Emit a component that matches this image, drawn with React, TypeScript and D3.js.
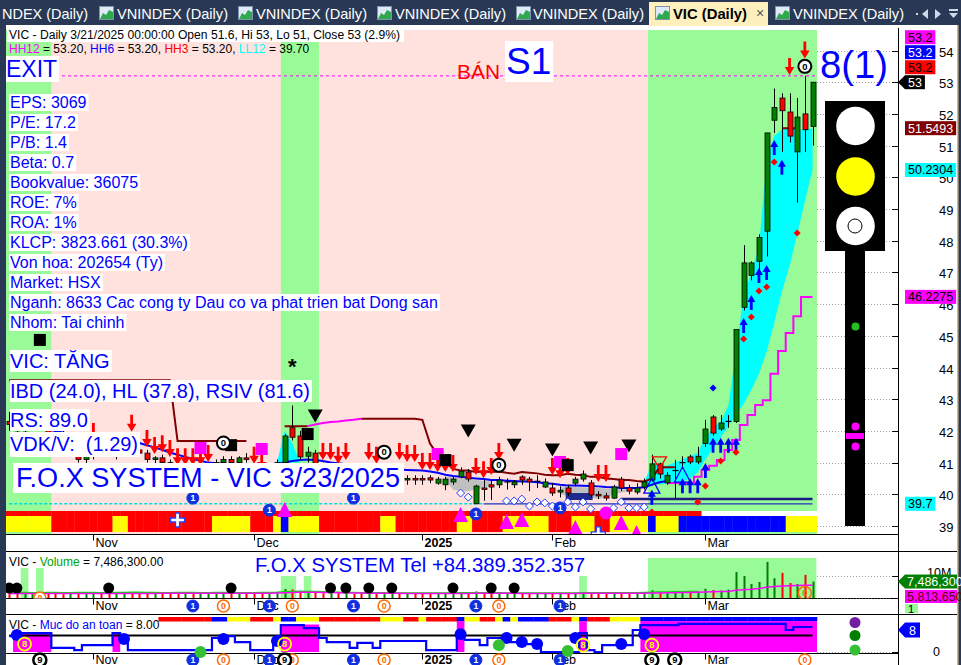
import React, { useEffect, useRef } from 'react';
import * as d3 from 'd3';

type Bar = [number, number, number, number];

const FONT = "'Liberation Sans', Arial, Helvetica, sans-serif";
const PINK = '#ffe2de';
const GREEN = '#98fb98';

// ---------- axis data ----------
const monthLabels = ['Nov', 'Dec', '2025', 'Feb', 'Mar'];
const monthStarts = [11, 32, 54, 71, 91];
const priceTicks = [39, 40, 41, 42, 43, 44, 45, 46, 47, 48, 49, 50, 51, 52, 53, 54];
const tabLabels = ['NDEX (Daily)', 'VNINDEX (Daily)', 'VNINDEX (Daily)', 'VNINDEX (Daily)', 'VNINDEX (Daily)', 'VIC (Daily)', 'VNINDEX (Daily)'];

// ---------- OHLC: open, high, low, close ----------
const octBars: Bar[] = [
  [42.3, 42.6, 42.0, 42.2], [42.2, 42.4, 41.9, 42.0], [42.0, 42.3, 41.8, 42.1], [42.1, 42.5, 42.0, 42.4],
  [42.4, 42.6, 42.1, 42.2], [42.2, 42.3, 41.8, 41.9], [41.9, 42.1, 41.6, 41.8], [41.8, 42.0, 41.5, 41.6],
  [41.6, 41.9, 41.4, 41.7], [41.4, 41.6, 41.0, 41.1], [41.1, 41.4, 40.9, 41.2],
];
const novBars: Bar[] = [
  [41.3, 41.6, 41.1, 41.5], [41.5, 41.6, 41.3, 41.4], [41.4, 41.6, 41.2, 41.3], [41.3, 41.5, 41.1, 41.4],
  [41.4, 41.7, 41.3, 41.6], [41.6, 41.85, 41.3, 41.4], [41.4, 41.6, 41.2, 41.3], [41.3, 41.4, 41.0, 41.1],
  [41.1, 41.2, 40.9, 41.15], [41.15, 41.25, 40.9, 41.0], [41.0, 41.1, 40.8, 40.9], [40.85, 40.88, 40.6, 40.7],
  [40.7, 40.85, 40.5, 40.8], [40.8, 40.85, 40.5, 40.6], [40.6, 40.85, 40.4, 40.7], [40.7, 40.95, 40.5, 40.8],
  [40.8, 41.1, 40.7, 41.0], [41.0, 41.2, 40.9, 41.1], [41.1, 41.2, 40.9, 41.0], [41.0, 41.2, 40.9, 41.15],
  [41.15, 41.3, 41.0, 41.1],
];
const decBars: Bar[] = [
  [40.9, 40.93, 40.7, 40.8], [40.7, 40.74, 40.5, 40.6], [40.6, 40.9, 40.5, 40.85], [40.85, 41.1, 40.8, 41.0],
  [41.0, 41.9, 40.9, 41.84], [42.1, 42.8, 41.7, 41.8], [41.84, 42.0, 41.1, 41.18], [41.2, 41.5, 41.0, 41.33],
  [41.3, 41.4, 40.7, 40.77], [40.8, 41.0, 40.5, 40.6], [40.6, 41.0, 40.4, 40.8], [40.8, 40.9, 40.5, 40.6],
  [40.6, 40.95, 40.4, 40.7], [40.7, 40.9, 40.5, 40.6], [40.6, 40.8, 40.3, 40.5], [40.5, 40.9, 40.3, 40.6],
  [40.6, 40.85, 40.4, 40.5], [40.5, 40.7, 40.3, 40.6], [40.35, 40.7, 40.3, 40.55], [40.5, 40.6, 40.2, 40.4],
  [40.45, 40.6, 40.3, 40.5], [40.5, 40.6, 40.3, 40.45],
];
const janBars: Bar[] = [
  [40.5, 40.6, 40.3, 40.45], [40.52, 40.6, 40.35, 40.45], [40.35, 40.55, 40.3, 40.48], [40.3, 40.55, 40.13, 40.48],
  [40.39, 40.55, 40.3, 40.48], [40.55, 40.85, 40.5, 40.73], [40.7, 40.8, 40.4, 40.48], [39.7, 40.3, 39.7, 40.26],
  [40.2, 40.45, 39.8, 40.15], [40.3, 40.45, 39.82, 40.23], [40.3, 40.55, 40.2, 40.45], [40.38, 40.5, 40.15, 40.4],
  [40.3, 40.45, 40.2, 40.39], [40.55, 40.6, 40.3, 40.45], [40.48, 40.55, 40.1, 40.39], [40.4, 40.6, 40.2, 40.42],
  [40.23, 40.5, 40.2, 40.39],
];
const febBars: Bar[] = [
  [40.2, 40.35, 39.95, 40.04], [40.07, 40.25, 39.9, 40.13], [40.2, 40.3, 39.95, 40.04], [40.35, 40.55, 40.25, 40.48],
  [40.48, 40.75, 40.4, 40.64], [40.36, 40.45, 39.9, 39.98], [40.0, 40.1, 39.85, 39.95], [39.95, 40.05, 39.8, 39.88],
  [39.88, 40.3, 39.85, 40.23], [40.48, 40.55, 40.1, 40.2], [40.2, 40.3, 40.0, 40.1], [40.07, 40.35, 40.0, 40.2],
  [40.23, 40.5, 40.15, 40.39], [40.45, 41.25, 40.4, 40.96], [40.96, 41.0, 40.5, 40.64], [40.36, 40.7, 40.3, 40.6],
  [40.74, 41.08, 39.88, 40.76], [40.98, 41.2, 40.8, 41.02], [41.18, 41.25, 40.95, 41.02], [41.02, 41.5, 40.95, 41.2],
];
const marBars: Bar[] = [
  [41.6, 42.35, 41.5, 42.06], [42.44, 42.5, 41.85, 41.93], [42.06, 42.5, 42.0, 42.25], [42.28, 42.5, 42.1, 42.32],
  [42.3, 45.2, 42.25, 45.2], [45.9, 47.86, 45.8, 47.3], [46.9, 47.35, 46.75, 47.3], [47.35, 48.2, 47.0, 48.1],
  [48.3, 51.4, 47.5, 51.4], [51.8, 52.8, 51.4, 52.2], [52.5, 52.65, 50.8, 52.1], [52.06, 52.65, 51.1, 51.3],
  [50.8, 52.5, 49.2, 51.9], [52.0, 53.2, 50.8, 51.5], [51.6, 53.0, 51.0, 53.0],
];

// ---------- volume (millions) ----------
const volumes = [
  2.4, 2.1, 1.8, 2.2, 1.9, 2.1, 2.4, 1.7, 2.0, 2.6, 1.8,
  2.2, 1.9, 2.3, 2.0, 1.8, 2.5, 2.1, 1.9, 2.4, 2.2, 2.0, 2.6, 2.3, 1.8, 2.1, 2.5, 2.0, 1.9, 2.2, 2.4, 2.1,
  2.3, 2.0, 2.4, 2.8, 4.1, 3.9, 3.2, 2.5, 2.6, 2.2, 2.0, 2.3, 2.1, 1.9, 2.4, 2.0, 1.8, 2.2, 2.1, 1.9, 2.3, 2.0,
  2.1, 1.8, 2.0, 2.2, 1.9, 2.3, 2.1, 3.0, 2.4, 2.0, 2.2, 1.9, 2.1, 2.0, 1.8, 2.2, 2.0,
  2.3, 2.0, 2.2, 2.1, 2.4, 2.6, 2.0, 1.9, 2.5, 2.3, 2.1, 2.2, 2.4, 3.5, 2.8, 2.6, 2.4, 2.9, 3.2, 3.0,
  4.2, 3.6, 3.4, 3.8, 11.8, 10.0, 6.4, 7.3, 16.4, 9.0, 11.4, 6.8, 6.4, 10.5, 7.4863,
];
const volAvgLong = [
  2.1, 2.1, 2.0, 2.0, 2.0, 2.1, 2.1, 2.1, 2.1, 2.1, 2.1,
  2.1, 2.1, 2.1, 2.1, 2.1, 2.1, 2.1, 2.1, 2.1, 2.2, 2.2, 2.2, 2.2, 2.2, 2.2, 2.2, 2.2, 2.2, 2.2, 2.2, 2.2,
  2.2, 2.2, 2.2, 2.3, 2.4, 2.5, 2.6, 2.6, 2.6, 2.5, 2.5, 2.4, 2.4, 2.3, 2.3, 2.2, 2.2, 2.2, 2.2, 2.2, 2.1, 2.1,
  2.1, 2.1, 2.1, 2.1, 2.1, 2.1, 2.1, 2.2, 2.2, 2.2, 2.2, 2.2, 2.2, 2.1, 2.1, 2.1, 2.1,
  2.1, 2.1, 2.1, 2.1, 2.2, 2.2, 2.2, 2.2, 2.2, 2.2, 2.2, 2.2, 2.2, 2.3, 2.3, 2.4, 2.4, 2.5, 2.5, 2.6,
  2.7, 2.8, 2.9, 3.0, 3.5, 3.8, 4.0, 4.3, 4.9, 5.2, 5.5, 5.6, 5.7, 5.8, 5.81,
];
const volAvgShort = [
  2.6, 2.5, 2.5, 2.4, 2.4, 2.5, 2.5, 2.4, 2.4, 2.5, 2.5,
  2.5, 2.4, 2.4, 2.5, 2.5, 2.6, 2.6, 2.5, 2.5, 2.4, 2.4, 2.5, 2.5, 2.5, 2.4, 2.4, 2.5, 2.5, 2.5, 2.4, 2.4,
  2.4, 2.5, 2.5, 2.6, 2.8, 3.0, 3.1, 3.0, 2.9, 2.8, 2.7, 2.6, 2.5, 2.5, 2.4, 2.4, 2.4, 2.4, 2.3, 2.3, 2.3, 2.3,
  2.3, 2.3, 2.3, 2.3, 2.3, 2.4, 2.4, 2.4, 2.4, 2.4, 2.4, 2.3, 2.3, 2.3, 2.3, 2.3, 2.3,
  2.3, 2.3, 2.3, 2.3, 2.4, 2.4, 2.4, 2.4, 2.4, 2.4, 2.4, 2.4, 2.5, 2.6, 2.7, 2.7, 2.8, 2.8, 2.9, 2.9,
];
const volDots = [0, 1, 13, 29, 42, 44, 47, 50, 58, 63, 66];
const volDotLevel = 4.5;
const volZones: [number, number, number][] = [[2, 2, 13.6], [4, 4, 13.6], [36, 37, 10], [39, 39, 10], [75, 75, 10], [84, 105, 18.2]];

// ---------- overlays on price ----------
const greenZones: [number, number][] = [[-0.5, 5.5], [35.5, 40.5], [83.5, 105.6]];
const resistance: (number | null)[] = [
  43.6, 43.6, 43.6, 43.6, 43.6, 43.6, 43.6, 43.6, 43.6, 43.6, 43.6,
  43.6, 43.6, 43.6, 43.6, 43.6, 43.6, 43.6, 43.6, 43.6, 43.6, 43.6, 41.68, 41.68, 41.68, 41.68, 41.68, 41.68, 41.68, 41.68, 41.68, 41.68,
  null, null, null, null, 42.15, 42.15, 42.15, 42.15, null, null, null, null, null, null, 42.38, 42.38, 42.38, 42.38, 42.38, 42.38, 42.38, 42.38,
  42.35, 41.6, 41.25, 41.0, 40.8, 40.75, 40.75, 40.7, 40.72, 40.7, 40.72, 40.68, 40.65, 40.7, 40.68, 40.66, 40.62,
  40.6, 40.6, 40.65, 40.62, 40.6, 40.55, 40.55, 40.5, 40.48, 40.45, 40.45, 40.42, 40.4, 40.5, 40.85, 40.85, 40.85, null, null, null,
  null, null, null, null, null, null, null, null, null, null, 51.55, 51.55, 51.55, null, null,
];
const risingStart = 39;
const risingLine = [42.15, 42.2, 42.25, 42.28, 42.3, 42.33, 42.35, 42.38];
const trailStart = 86;
const trailLine = [40.36, 40.36, 40.36, 40.36, 40.55, 40.77, 40.9, 41.08, 41.4, 41.71, 42.19, 42.5, 42.82, 42.97, 43.8, 44.52, 45.09, 45.62, 46.2275, 46.2275];
const maLine: (number | null)[] = [
  42.25, 42.2, 42.15, 42.12, 42.1, 42.05, 42.0, 41.95, 41.9, 41.85, 41.8,
  41.78, 41.75, 41.72, 41.7, 41.68, 41.65, 41.62, 41.55, 41.48, 41.4, 41.32, 41.25, 41.18, 41.12, 41.06, 41.0, 40.98, 40.96, 40.95, 40.95, 40.95,
  40.95, 40.95, 40.95, 40.96, 41.0, 41.05, 41.08, 41.1, 41.08, 41.05, 41.0, 40.98, 40.95, 40.92, 40.9, 40.88, 40.85, 40.82, 40.8, 40.78, 40.77, 40.76,
  40.75, 40.72, 40.68, 40.62, 40.58, 40.55, 40.52, 40.5, 40.48, 40.45, 40.45, 40.43, 40.42, 40.4, 40.4, 40.38, 40.35,
  40.33, 40.3, 40.28, 40.28, 40.27, 40.26, 40.25, 40.23, 40.22, 40.2, 40.2, 40.2, 40.22, 40.3, 40.38, 40.42, null, null, null, null,
  null, null, null, null, null, null, null, null, null, null, null, null, null, null, null,
];
const cloudA: [number, number[]] = [57, [40.45, 40.15, 40.1, 40.1, 40.15, 40.2, 40.3]];
const cloudB: [number, number[]] = [72, [40.0, 39.95, 39.95, 40.0, 39.9, 39.85, 39.9, 40.0, 40.05, 40.1, 40.15]];
const bandStart = 83;
const bandUpper = [40.39, 40.96, 40.9, 40.9, 41.0, 41.1, 41.2, 41.3, 41.8, 42.1, 42.3, 42.8, 44.5, 46.3, 47.0, 47.8, 50.5, 51.3, 51.5, 51.6, 51.5, 51.5, 51.55];
const bandLower = [40.2, 40.3, 40.32, 40.34, 40.36, 40.4, 40.5, 40.7, 41.1, 41.45, 41.8, 42.15, 42.5, 42.85, 43.3, 43.8, 44.5, 45.4, 46.4, 47.2, 48.2, 49.25, 50.23];
const decBandStart = 35;
const decBandUpper = [41.0, 42.0, 41.6, 41.0];
const decBandLower = [41.0, 41.0, 41.0, 41.0];
const ll12 = 39.7;
const ll12Switch = 62;
const supportLine: [number, number, number] = [80, 105, 39.85];
const supportBox: [number, number, number, number] = [73, 76, 39.82, 40.04];
const hh = 53.2;

const stripRuns: [string, number][] = [['Y', 6], ['R', 8], ['Y', 2], ['R', 11], ['Y', 5], ['R', 3], ['Y', 1], ['B', 1], ['Y', 4], ['R', 8], ['Y', 2], ['R', 8], ['Y', 2], ['R', 4], ['Y', 6], ['R', 3], ['Y', 3], ['R', 2], ['Y', 5], ['B', 1], ['Y', 3], ['B', 14], ['Y', 4]];
const stripTopEnd = 90;

const redDownArrows: [number, number][] = [[11, 41.71], [16, 41.97], [18, 41.49], [19, 41.27], [20, 41.33], [21, 41.18], [22, 40.92], [23, 40.92], [24, 40.92], [25, 40.92], [26, 41.02], [32, 40.96], [33, 40.77], [41, 41.08], [42, 41.08], [43, 40.96], [44, 41.08], [47, 41.08], [48, 40.96], [51, 41.08], [52, 41.02], [53, 41.02], [54, 40.77], [55, 40.77], [56, 40.7], [57, 40.7], [58, 40.7], [61, 40.61], [62, 40.51], [63, 40.61], [64, 41.08], [71, 40.61], [72, 40.51], [73, 40.61], [77, 40.39], [78, 40.39], [102, 53.23], [104, 53.75]];
const blueUpArrows: [number, number][] = [[84, 40.14], [88, 40.51], [89, 40.51], [90, 40.51], [91, 40.99], [92, 41.78], [93, 41.78], [94, 41.78], [95, 41.78], [96, 45.56], [97, 46.29], [98, 47.14], [99, 47.23], [100, 51.18], [101, 50.55]];
const redDots: [number, number][] = [[84, 39.44], [90, 39.76], [91, 40.26], [93, 41.05], [95, 41.33], [96, 44.9], [97, 45.59], [98, 46.41], [99, 46.54], [100, 50.48], [103, 48.24]];
const blueDots: [number, number][] = [[92, 43.35]];
const blackTriangles: [number, number][] = [[40, 42.47], [60, 42.0], [66, 41.55], [71, 41.4], [76, 41.46], [81, 41.52]];
const magentaSquares: [number, number][] = [[25, 41.46], [33, 41.43], [56, 41.27], [72, 41.02], [80, 41.27]];
const blackSquares: [number, number][] = [[4, 44.87], [29, 41.55], [39, 41.9], [57, 41.08], [73, 40.92]];
const zeroMarks: [number, number][] = [[28, 41.62], [49, 41.33], [64, 40.92], [104, 53.5]];
const oneMarks: [number, number][] = [[24, 39.88], [34, 39.5], [45, 39.88], [61, 39.38], [72, 39.57]];
const openDiamonds: [number, number][] = [[59, 40.04], [60, 39.91], [65, 39.79], [66, 39.79], [67, 39.85], [68, 39.63], [69, 39.76], [70, 39.73], [71, 39.63], [73, 39.76], [74, 39.6], [75, 39.76], [76, 39.54], [79, 39.57], [80, 39.76], [81, 39.57], [82, 39.57], [83, 39.6]];
const magentaTriangles: [number, number][] = [[36, 39.76], [59, 39.6], [65, 39.38], [67, 39.44], [74, 39.19], [80, 39.35], [82, 39.03]];
const magentaCircles: [number, number][] = [[78, 39.41]];
const blueStars: [number, number][] = [[22, 39.19], [77, 38.75]];
const blueOutlineTriangles: [number, number][] = [[84, 40.51], [88, 40.86]];
const redOutlineTriangles: [number, number][] = [[85, 41.18]];
const asterisks: [number, number][] = [[37, 44.08]];

// ---------- price label boxes ----------
const priceTags: { v: number; bg: string; fg: string; arrow?: boolean }[] = [
  { v: 53, bg: '#000000', fg: '#ffffff', arrow: true },
  { v: 53.2, bg: '#ff0000', fg: '#000000' },
  { v: 53.2, bg: '#0000ff', fg: '#ffffff' },
  { v: 53.2, bg: '#ff00ff', fg: '#000000' },
  { v: 51.5493, bg: '#800000', fg: '#ffffff' },
  { v: 50.2304, bg: '#00ffff', fg: '#000000' },
  { v: 46.2275, bg: '#ff00ff', fg: '#000000' },
  { v: 39.7, bg: '#00ffff', fg: '#000000' },
];

// ---------- texts ----------
const headerLine = 'VIC - Daily 3/21/2025 00:00:00 Open 51.6, Hi 53, Lo 51, Close 53 (2.9%)';
const hhParts: [string, string][] = [['HH12', '#ff00ff'], [' = 53.20, ', '#000000'], ['HH6', '#0000ff'], [' = 53.20, ', '#000000'], ['HH3', '#ff0000'], [' = 53.20, ', '#000000'], ['LL12', '#00ffff'], [' = 39.70', '#000000']];
const infoLines = ['EPS: 3069', 'P/E: 17.2', 'P/B: 1.4', 'Beta: 0.7', 'Bookvalue: 36075', 'ROE: 7%', 'ROA: 1%', 'KLCP: 3823.661 (30.3%)', 'Von hoa: 202654 (Ty)', 'Market: HSX', 'Nganh: 8633 Cac cong ty Dau co va phat trien bat Dong san', 'Nhom: Tai chinh'];

// ---------- safety panel ----------
const safety = [
  5.8, 6.9, 6.9, 6.9, 6.9, 6.9, 1.5, 1.5, 1.5, 0.7, 2.5,
  2.5, 2.5, 2.5, 6.9, 5.1, 0.7, 0.7, 0.7, 0.7, 0.7, 0.7, 0.7, 0.7, 0.7, 0.7, 0.7, 5.1, 5.8, 5.8, 3.6, 3.6,
  0.7, 0.7, 0.7, 4.4, 9.8, 9.8, 9.8, 8.7, 8.7, 5.1, 3.6, 3.6, 3.6, 1.5, 3.3, 3.3, 1.5, 4.0, 4.0, 4.0,
  4.0, 4.0, 4.0, 0.7, 0.7, 0.7, 0.7, 6.9, 4.4, 4.4, 2.5, 5.1, 5.1, 5.1, 3.6, 3.6, 2.9, 2.9, 0,
  0, 0, 0, 0, 6.9, 0.7, 0, 2.5, 2.5, 2.5, 2.5, 8.0, 9.8, 9.8, 9.8, 9.8, 9.8, 10.2, 10.2, 10.2,
  10.2, 10.2, 10.2, 10.2, 10.2, 10.2, 10.2, 10.2, 10.2, 10.2, 10.2, 8.0, 9.1, 9.1, 9.1,
];
const safetyThreshold = 6;
const safetyZones: [number, number, number][] = [[1, 5, 6.9], [14, 14, 7.2], [36, 40, 10], [59, 59, 11.2], [75, 75, 11.2], [83, 105, 11.2]];
const safetyRuns: [string, number][] = [['-', 20], ['R', 7], ['B', 2], ['Y', 3], ['R', 3], ['Y', 1], ['B', 2], ['Y', 3], ['R', 8], ['Y', 3], ['R', 2], ['Y', 1], ['R', 4], ['B', 1], ['Y', 2], ['R', 2], ['Y', 1], ['B', 1], ['Y', 1], ['B', 4], ['R', 3], ['Y', 1], ['B', 1], ['R', 3], ['Y', 4], ['B', 23]];
const safetyBlueDots: [number, number][] = [[1, 6.2], [15, 4.7], [28, 4.7], [35, 4.0], [59, 6.5], [65, 5.1], [67, 3.6], [69, 2.9], [74, 5.1], [80, 2.9], [83, 6.5]];
const safetyGreenDots: [number, number][] = [[25, 0], [64, 2.5], [73, 0.4]];
const safetyEights: [number, number][] = [[2, 2.9], [36, 2.9], [75, 2.5], [84, 2.5]];
const rowOnes = [24, 34, 45, 61, 72];
const rowZeros = [28, 37, 49, 64];
const rowNines = [4, 36, 84, 87];
const lateZero = 104;

const COLORS: Record<string, string> = { R: '#ff0000', Y: '#ffff00', B: '#0000ff' };

function expandRuns(runs: [string, number][]) {
  const out: string[] = [];
  runs.forEach(([c, k]) => { for (let j = 0; j < k; j++) out.push(c); });
  return out;
}

function draw(el: SVGSVGElement) {
  const svg: any = d3.select(el);
  svg.selectAll('*').remove();
  const bars: Bar[] = [...octBars, ...novBars, ...decBars, ...janBars, ...febBars, ...marBars];
  const n = bars.length;
  const x = d3.scaleLinear().domain([0, n - 1]).range([9.25, 812.5]);
  const y = d3.scaleLinear().domain([39, 54]).range([526, 50.5]);
  const yv = d3.scaleLinear().domain([0, 10]).range([598, 576]);
  const ys = d3.scaleLinear().domain([0, 10]).range([652, 624.5]);

  const txt = (g: any, s: string, tx: number, ty: number, size: number, color: string, extra: any = {}) => {
    const t = g.append('text').attr('x', tx).attr('y', ty).attr('font-family', FONT).attr('font-size', size).attr('fill', color).text(s);
    if (extra.len) t.attr('textLength', extra.len).attr('lengthAdjust', 'spacingAndGlyphs');
    if (extra.weight) t.attr('font-weight', extra.weight);
    if (extra.anchor) t.attr('text-anchor', extra.anchor);
    return t;
  };
  const boxed = (g: any, s: string, tx: number, ty: number, size: number, color: string, extra: any = {}) => {
    const t = txt(g, s, tx, ty, size, color, extra);
    const bb = t.node().getBBox();
    const pl = extra.padL ?? 1, pr = extra.padR ?? 2;
    g.insert('rect', () => t.node()).attr('x', bb.x - pl).attr('y', bb.y + (extra.dy || 0)).attr('width', bb.width + pl + pr).attr('height', bb.height + (extra.dh || 0)).attr('fill', extra.bg || '#ffffff');
    return t;
  };
  const numCircle = (g: any, cx: number, cy: number, r: number, fill: string, stroke: string, sw: number, s: string, tc: string) => {
    g.append('circle').attr('cx', cx).attr('cy', cy).attr('r', r).attr('fill', fill).attr('stroke', stroke).attr('stroke-width', sw);
    g.append('text').attr('x', cx).attr('y', cy + r * 0.5).attr('text-anchor', 'middle').attr('font-family', FONT).attr('font-weight', 'bold').attr('font-size', r * 1.45).attr('fill', tc).text(s);
  };

  // page + panel
  svg.append('rect').attr('width', 961).attr('height', 665).attr('fill', '#293955');
  svg.append('rect').attr('x', 6).attr('y', 25).attr('width', 951).attr('height', 640).attr('fill', '#ffffff');
  svg.append('rect').attr('x', 957).attr('y', 25).attr('width', 1.5).attr('height', 640).attr('fill', '#d8b57a');

  // ---- tabs ----
  const tabs = svg.append('g');
  tabs.append('rect').attr('x', 649).attr('y', 2).attr('width', 119).attr('height', 24).attr('fill', '#fdf0be');
  const tabTextX = [2, 117, 256, 395, 533, 673, 793];
  const tabTextW = [86, 111, 111, 111, 111, 74, 111];
  const iconX = [null, 99, 238, 377, 516, 655, 775];
  tabLabels.forEach((lab, k) => {
    const active = k === 5;
    const ix = iconX[k];
    if (ix !== null) {
      tabs.append('rect').attr('x', ix + 0.5).attr('y', 6.5).attr('width', 14).attr('height', 13).attr('fill', '#dfeaf7').attr('stroke', '#7f93ad');
      tabs.append('path').attr('d', `M${ix + 1},${19} L${ix + 4},${13} L${ix + 7},${15} L${ix + 10},${10} L${ix + 14},${12} L${ix + 14},${19} Z`).attr('fill', '#2fa84f');
    }
    txt(tabs, lab, tabTextX[k], 19, 14.6, active ? '#000000' : '#ffffff', { len: tabTextW[k], weight: active ? 'bold' : 'normal' });
  });
  txt(tabs, '×', 756, 18, 14, '#555555');
  tabs.append('path').attr('d', 'M928,9 L922,14 L928,19 Z').attr('fill', '#cfd8e8');
  tabs.append('path').attr('d', 'M935,9 L941,14 L935,19 Z').attr('fill', '#cfd8e8');
  tabs.append('rect').attr('x', 949).attr('y', 9).attr('width', 9).attr('height', 2).attr('fill', '#cfd8e8');
  tabs.append('path').attr('d', 'M949,13 L958,13 L953.5,18 Z').attr('fill', '#cfd8e8');
  tabs.append('rect').attr('x', 916).attr('y', 13).attr('width', 2).attr('height', 2).attr('fill', '#cfd8e8');

  // ---- main panel ----
  const defs = svg.append('defs');
  defs.append('clipPath').attr('id', 'mainClip').append('rect').attr('x', 6).attr('y', 28).attr('width', 892).attr('height', 506);
  const main = svg.append('g').attr('clip-path', 'url(#mainClip)');
  main.append('rect').attr('x', 6).attr('y', 30).attr('width', 811).attr('height', 504).attr('fill', PINK);
  greenZones.forEach(([a, b]) => {
    const x0 = Math.max(6, x(a));
    main.append('rect').attr('x', x0).attr('y', 30).attr('width', x(b) - x0).attr('height', 504).attr('fill', GREEN);
  });
  priceTicks.forEach((p) => {
    main.append('line').attr('x1', 817).attr('x2', 892).attr('y1', Math.round(y(p)) + 0.5).attr('y2', Math.round(y(p)) + 0.5).attr('stroke', '#a0a0a0').attr('stroke-dasharray', '1,2');
  });

  // bottom strip
  const strip = expandRuns(stripRuns);
  strip.forEach((c, i) => {
    const x0 = i === 0 ? 6 : x(i - 0.5);
    const x1 = i === n - 1 ? 817 : x(i + 0.5);
    main.append('rect').attr('x', x0).attr('y', 516).attr('width', x1 - x0 + 0.3).attr('height', 16).attr('fill', COLORS[c]);
    main.append('rect').attr('x', x0).attr('y', 511).attr('width', x1 - x0 + 0.3).attr('height', 5).attr('fill', i <= stripTopEnd ? '#ff0000' : '#ffffff');
  });

  // gray clouds
  [cloudA, cloudB].forEach(([s, lows]) => {
    const ar = d3.area<number>().x((_, k) => x(s + k)).y0((d) => y(d)).y1((_, k) => y((maLine[s + k] as number) - 0.05));
    main.append('path').attr('d', ar(lows)).attr('fill', '#c0c0c0');
  });

  // cyan bands
  const band = d3.area<number>().x((_, k) => x(bandStart + k)).y0((_, k) => y(bandLower[k])).y1((d) => y(d));
  main.append('path').attr('d', band(bandUpper)).attr('fill', '#00ffff');
  const dband = d3.area<number>().x((_, k) => x(decBandStart + k)).y0((_, k) => y(decBandLower[k])).y1((d) => y(d));
  main.append('path').attr('d', dband(decBandUpper)).attr('fill', '#00ffff');

  // lines
  const lineGen = d3.line<number | null>().defined((d) => d !== null).x((_, i) => x(i)).y((d) => y(d as number));
  main.append('path').attr('d', lineGen(maLine)).attr('fill', 'none').attr('stroke', '#0000ff').attr('stroke-width', 2);
  main.append('path').attr('d', lineGen(resistance)).attr('fill', 'none').attr('stroke', '#800000').attr('stroke-width', 2);
  const rise = d3.line<number>().x((_, k) => x(risingStart + k)).y((d) => y(d));
  main.append('path').attr('d', rise(risingLine)).attr('fill', 'none').attr('stroke', '#ff00ff').attr('stroke-width', 2);
  const trail = d3.line<number>().x((_, k) => x(trailStart + k)).y((d) => y(d)).curve(d3.curveStep);
  main.append('path').attr('d', trail(trailLine)).attr('fill', 'none').attr('stroke', '#ff00ff').attr('stroke-width', 2);

  // LL12 lines
  main.append('line').attr('x1', x(0)).attr('x2', x(ll12Switch)).attr('y1', y(ll12)).attr('y2', y(ll12)).attr('stroke', '#00dddd').attr('stroke-width', 1.5).attr('stroke-dasharray', '3,2');
  main.append('line').attr('x1', x(ll12Switch)).attr('x2', x(n - 1)).attr('y1', y(ll12)).attr('y2', y(ll12)).attr('stroke', '#2030c0').attr('stroke-width', 1.2);
  main.append('line').attr('x1', x(supportLine[0])).attr('x2', x(supportLine[1])).attr('y1', y(supportLine[2])).attr('y2', y(supportLine[2])).attr('stroke', '#1a1a80').attr('stroke-width', 2.5);
  main.append('rect').attr('x', x(supportBox[0]) - 2).attr('y', y(supportBox[3])).attr('width', x(supportBox[1]) - x(supportBox[0]) + 4).attr('height', y(supportBox[2]) - y(supportBox[3])).attr('fill', '#1f2a8c');

  // HH line
  main.append('line').attr('x1', 56).attr('x2', 818).attr('y1', y(hh)).attr('y2', y(hh)).attr('stroke', '#ff00ff').attr('stroke-width', 1).attr('stroke-dasharray', '3,3');

  // markers below candles
  openDiamonds.forEach(([i, p]) => {
    const cx = x(i), cy = y(p);
    main.append('path').attr('d', `M${cx},${cy - 4} L${cx + 4},${cy} L${cx},${cy + 4} L${cx - 4},${cy} Z`).attr('fill', '#ffffff').attr('stroke', '#2040ff').attr('stroke-width', 1);
  });
  magentaTriangles.forEach(([i, p]) => {
    const cx = x(i), ty = y(p);
    main.append('path').attr('d', `M${cx},${ty} L${cx + 7.5},${ty + 15} L${cx - 7.5},${ty + 15} Z`).attr('fill', '#ff00ff');
  });
  magentaCircles.forEach(([i, p]) => main.append('circle').attr('cx', x(i)).attr('cy', y(p)).attr('r', 6.5).attr('fill', '#ff00ff'));
  blueStars.forEach(([i, p]) => {
    const cx = x(i), cy = y(p);
    main.append('path').attr('d', `M${cx - 2},${cy - 7} H${cx + 2} V${cy - 2} H${cx + 7} V${cy + 2} H${cx + 2} V${cy + 7} H${cx - 2} V${cy + 2} H${cx - 7} V${cy - 2} H${cx - 2} Z`).attr('fill', '#ffffff').attr('stroke', '#2040ff').attr('stroke-width', 1.3);
  });

  // candles
  bars.forEach(([o, h, l, c], i) => {
    const cx = Math.round(x(i)) + 0.5;
    main.append('line').attr('x1', cx).attr('x2', cx).attr('y1', y(h)).attr('y2', y(l)).attr('stroke', '#000000').attr('stroke-width', 1);
    const top = y(Math.max(o, c)), bot = y(Math.min(o, c));
    if (bot - top < 1.5) {
      main.append('line').attr('x1', cx - 3).attr('x2', cx + 3).attr('y1', (top + bot) / 2).attr('y2', (top + bot) / 2).attr('stroke', '#000000').attr('stroke-width', 1.2);
    } else {
      main.append('rect').attr('x', cx - 2.5).attr('y', top).attr('width', 5).attr('height', bot - top).attr('fill', c >= o ? '#008000' : '#ff0000').attr('stroke', '#000000').attr('stroke-width', 0.8);
    }
  });

  // markers
  redDownArrows.forEach(([i, p]) => {
    const cx = x(i), t = y(p);
    main.append('path').attr('d', `M${cx - 1.4},${t - 17} H${cx + 1.4} V${t - 8} H${cx + 4.8} L${cx},${t} L${cx - 4.8},${t - 8} H${cx - 1.4} Z`).attr('fill', '#ff0000');
  });
  blueUpArrows.forEach(([i, p]) => {
    const cx = x(i), t = y(p);
    main.append('path').attr('d', `M${cx - 1.4},${t + 15} H${cx + 1.4} V${t + 7} H${cx + 4} L${cx},${t} L${cx - 4},${t + 7} H${cx - 1.4} Z`).attr('fill', '#0000ff');
  });
  redDots.forEach(([i, p]) => {
    const cx = x(i), cy = y(p);
    main.append('path').attr('d', `M${cx},${cy - 3.5} L${cx + 3.5},${cy} L${cx},${cy + 3.5} L${cx - 3.5},${cy} Z`).attr('fill', '#ff0000');
  });
  blueDots.forEach(([i, p]) => {
    const cx = x(i), cy = y(p);
    main.append('path').attr('d', `M${cx},${cy - 3.5} L${cx + 3.5},${cy} L${cx},${cy + 3.5} L${cx - 3.5},${cy} Z`).attr('fill', '#0000ff');
  });
  blackTriangles.forEach(([i, p]) => {
    const cx = x(i), cy = y(p);
    main.append('path').attr('d', `M${cx - 7.5},${cy - 6.5} L${cx + 7.5},${cy - 6.5} L${cx},${cy + 6.5} Z`).attr('fill', '#000000');
  });
  magentaSquares.forEach(([i, p]) => main.append('rect').attr('x', x(i) - 6).attr('y', y(p) - 6).attr('width', 12).attr('height', 12).attr('fill', '#ff00ff'));
  blackSquares.forEach(([i, p]) => main.append('rect').attr('x', x(i) - 6).attr('y', y(p) - 6).attr('width', 12).attr('height', 12).attr('fill', '#000000'));
  zeroMarks.forEach(([i, p]) => numCircle(main, x(i), y(p), 6.5, '#ffffff', '#000000', 2, '0', '#000000'));
  oneMarks.forEach(([i, p]) => numCircle(main, x(i), y(p), 6, '#1030e0', '#1030e0', 1, '1', '#ffffff'));
  blueOutlineTriangles.forEach(([i, p]) => {
    const cx = x(i), t = y(p);
    main.append('path').attr('d', `M${cx},${t} L${cx + 8},${t + 15} L${cx - 8},${t + 15} Z`).attr('fill', 'none').attr('stroke', '#0000ff').attr('stroke-width', 1.3);
  });
  redOutlineTriangles.forEach(([i, p]) => {
    const cx = x(i), t = y(p);
    main.append('path').attr('d', `M${cx - 7},${t} L${cx + 7},${t} L${cx},${t + 12} Z`).attr('fill', 'none').attr('stroke', '#ff0000').attr('stroke-width', 1.3);
  });
  asterisks.forEach(([i, p]) => txt(main, '*', x(i), y(p) + 9, 22, '#000000', { anchor: 'middle', weight: 'bold' }));

  // ---- texts over chart ----
  const tg = svg.append('g');
  boxed(tg, headerLine, 9, 39, 12, '#000000', { len: 391, padL: 2, padR: 4 });
  const hl = tg.append('text').attr('x', 9).attr('y', 53).attr('font-family', FONT).attr('font-size', 12);
  hhParts.forEach(([s, c]) => hl.append('tspan').attr('fill', c).text(s));
  boxed(tg, 'EXIT', 6, 77, 23, '#0000ff', { padL: 0, padR: 2 });
  infoLines.forEach((s, k) => boxed(tg, s, 10, 108 + 20 * k, 16, '#0000ff', { padL: 1, padR: 2 }));
  boxed(tg, 'VIC: TĂNG', 10, 368, 20, '#0000ff', { padL: 0, padR: 2 });
  boxed(tg, 'IBD (24.0), HL (37.8), RSIV (81.6)', 10, 398, 20, '#0000ff', { padL: 0, padR: 2, len: 300 });
  boxed(tg, 'RS: 89.0', 10, 427, 20, '#0000ff', { padL: 0, padR: 2 });
  boxed(tg, 'VDK/V:\u00a0 (1.29)', 10, 451, 20, '#0000ff', { padL: 0, padR: 2, dy: -1, dh: 3, len: 128 });
  boxed(tg, 'F.O.X SYSTEM - VIC 3/23/2025', 16, 487, 27, '#0000ff', { padL: 3, padR: 4, len: 384 });
  txt(tg, 'BÁN', 457, 79, 21, '#ff0000', { len: 43 });
  boxed(tg, 'S1', 506, 74, 37, '#0000ff', { padL: 1, padR: 2 });
  txt(tg, '8(1)', 820, 78, 38, '#0000ff', { len: 68 });

  // traffic light
  const tl = svg.append('g');
  tl.append('rect').attr('x', 825).attr('y', 101).attr('width', 60).attr('height', 150).attr('fill', '#000000');
  tl.append('rect').attr('x', 845).attr('y', 250).attr('width', 20).attr('height', 276).attr('fill', '#000000');
  tl.append('circle').attr('cx', 855.5).attr('cy', 126).attr('r', 19.3).attr('fill', '#ffffff');
  tl.append('circle').attr('cx', 855.5).attr('cy', 176.5).attr('r', 19.3).attr('fill', '#ffff00');
  tl.append('circle').attr('cx', 855.5).attr('cy', 226).attr('r', 19.3).attr('fill', '#ffffff');
  tl.append('circle').attr('cx', 855).attr('cy', 226).attr('r', 7).attr('fill', 'none').attr('stroke', '#000000').attr('stroke-width', 1);
  tl.append('circle').attr('cx', 855.5).attr('cy', 326.5).attr('r', 4).attr('fill', '#22c022');
  tl.append('circle').attr('cx', 855.5).attr('cy', 426.5).attr('r', 4).attr('fill', '#ff00ff');
  tl.append('rect').attr('x', 846).attr('y', 433).attr('width', 18).attr('height', 6).attr('fill', '#ff00ff');
  tl.append('circle').attr('cx', 855.5).attr('cy', 446.5).attr('r', 4).attr('fill', '#ff00ff');

  // ---- axes ----
  const ax = svg.append('g');
  ax.append('line').attr('x1', 898.5).attr('x2', 898.5).attr('y1', 28).attr('y2', 665).attr('stroke', '#000000');
  ax.append('line').attr('x1', 6).attr('x2', 898).attr('y1', 534.5).attr('y2', 534.5).attr('stroke', '#000000');
  ax.append('line').attr('x1', 6).attr('x2', 957).attr('y1', 551.5).attr('y2', 551.5).attr('stroke', '#000000');
  ax.append('line').attr('x1', 6).attr('x2', 898).attr('y1', 598.5).attr('y2', 598.5).attr('stroke', '#000000');
  ax.append('line').attr('x1', 6).attr('x2', 957).attr('y1', 614.5).attr('y2', 614.5).attr('stroke', '#000000');
  ax.append('line').attr('x1', 6).attr('x2', 898).attr('y1', 653.5).attr('y2', 653.5).attr('stroke', '#000000');
  priceTicks.forEach((p) => {
    const yy = Math.round(y(p)) + 0.5;
    ax.append('line').attr('x1', 892).attr('x2', 898).attr('y1', yy).attr('y2', yy).attr('stroke', '#000000');
    txt(ax, String(p), 939, yy + 5, 13, '#000000');
  });
  const rows: [number, number][] = [[534.5, 547], [598.5, 610], [653.5, 664]];
  rows.forEach(([yl, yt]) => {
    monthStarts.forEach((mi, k) => {
      const xx = Math.round(x(mi)) + 0.5;
      ax.append('line').attr('x1', xx).attr('x2', xx).attr('y1', yl).attr('y2', yl + 6).attr('stroke', '#000000');
      txt(ax, monthLabels[k], xx + 2, yt, 12.5, '#000000', { weight: monthLabels[k] === '2025' ? 'bold' : 'normal' });
    });
  });

  // price tags with overlap stacking
  let prevY = 1e9;
  let prevV = -1;
  priceTags.forEach((tag) => {
    let cy = y(tag.v);
    if (tag.v >= prevV - 0.3 && prevV > 0 && cy > prevY - 15) cy = prevY - 15;
    prevY = cy; prevV = tag.v;
    const label = String(tag.v);
    const t = txt(ax, label, 908, cy + 4.5, 12.5, tag.fg);
    const w = (t.node() as any).getComputedTextLength();
    ax.insert('rect', () => t.node()).attr('x', 905).attr('y', cy - 7).attr('width', Math.min(52, w + 6)).attr('height', 14).attr('fill', tag.bg);
    if (tag.arrow) ax.insert('path', () => t.node()).attr('d', `M898,${cy} L905,${cy - 7} L905,${cy + 7} Z`).attr('fill', tag.bg);
  });

  // ---- volume panel ----
  defs.append('clipPath').attr('id', 'volClip').append('rect').attr('x', 6).attr('y', 552).attr('width', 892).attr('height', 46.5);
  const vol = svg.append('g').attr('clip-path', 'url(#volClip)');
  volZones.forEach(([a, b, top]) => {
    vol.append('rect').attr('x', x(a - 0.5)).attr('y', yv(top)).attr('width', x(b + 0.5) - x(a - 0.5)).attr('height', yv(0) - yv(top)).attr('fill', GREEN);
  });
  [0, 10].forEach((v) => vol.append('line').attr('x1', 817).attr('x2', 892).attr('y1', Math.round(yv(v)) + 0.5).attr('y2', Math.round(yv(v)) + 0.5).attr('stroke', '#a0a0a0').attr('stroke-dasharray', '1,2'));
  volumes.forEach((v, i) => {
    const [o, , , c] = bars[i];
    vol.append('rect').attr('x', Math.round(x(i)) - 0.5).attr('y', yv(v)).attr('width', 2).attr('height', yv(0) - yv(v)).attr('fill', c >= o ? '#008000' : '#ff0000');
  });
  const vline = d3.line<number>().x((_, i) => x(i)).y((d) => yv(d));
  vol.append('path').attr('d', vline(volAvgShort)).attr('fill', 'none').attr('stroke', '#00e000').attr('stroke-width', 1.5);
  vol.append('path').attr('d', vline(volAvgLong)).attr('fill', 'none').attr('stroke', '#ff00ff').attr('stroke-width', 1.5);
  volDots.forEach((i) => vol.append('circle').attr('cx', x(i)).attr('cy', yv(volDotLevel)).attr('r', 5.5).attr('fill', '#000000'));
  numCircle(vol, x(rowNines[0]), 598, 6, '#ffffff', '#ff6a00', 1.5, '0', '#ff6a00');
  numCircle(vol, x(lateZero), 593, 6.5, 'none', '#ff6a00', 1.5, '0', '#ff6a00');
  const vt = svg.append('text').attr('x', 9).attr('y', 566).attr('font-family', FONT).attr('font-size', 12);
  vt.append('tspan').attr('fill', '#000000').text('VIC - ');
  vt.append('tspan').attr('fill', '#00a000').text('Volume');
  vt.append('tspan').attr('fill', '#000000').text(' = 7,486,300.00');
  txt(svg, 'F.O.X SYSTEM Tel +84.389.352.357', 255, 572, 20, '#0000ff', { len: 330 });
  txt(ax, '10M', 927, 577, 12.5, '#000000');
  ax.append('line').attr('x1', 892).attr('x2', 898).attr('y1', 576.5).attr('y2', 576.5).attr('stroke', '#000000');
  const lastV = yv(volumes[n - 1]);
  ax.append('path').attr('d', `M898,${lastV} L905,${lastV - 7} L905,${lastV + 7} Z`).attr('fill', '#008000');
  ax.append('rect').attr('x', 905).attr('y', lastV - 7).attr('width', 52).attr('height', 14).attr('fill', '#008000');
  txt(ax, d3.format(',')(Math.round(volumes[n - 1] * 1e6 / 100) * 100), 907, lastV + 4.5, 12.5, '#ffffff');
  ax.append('rect').attr('x', 905).attr('y', 590).attr('width', 52).attr('height', 13).attr('fill', '#ff00ff');
  txt(ax, d3.format(',')(volAvgLong[n - 1] * 1e6 + 3650), 907, 601, 12.5, '#5a0000');
  ax.append('rect').attr('x', 905).attr('y', 604).attr('width', 13).attr('height', 9).attr('fill', GREEN);
  txt(ax, '1', 908, 613, 11, '#000000');

  // row markers
  [606, 660].forEach((ry) => {
    rowOnes.forEach((i) => numCircle(svg, x(i), ry, 6, '#1030e0', '#1030e0', 1, '1', '#ffffff'));
    rowZeros.forEach((i) => numCircle(svg, x(i), ry, 6, '#ffffff', '#ff6a00', 1.5, '0', '#ff6a00'));
  });
  rowNines.forEach((i) => numCircle(svg, x(i), 660, 6.5, '#ffffff', '#000000', 2.5, '9', '#000000'));
  numCircle(svg, x(lateZero), 660, 6, '#ffffff', '#ff6a00', 1.5, '0', '#ff6a00');

  // ---- safety panel ----
  const sp = svg.append('g');
  const sr = expandRuns(safetyRuns);
  sr.forEach((c, i) => {
    if (c === '-') return;
    const x0 = x(i - 0.5), x1 = i === n - 1 ? 817 : x(i + 0.5);
    sp.append('rect').attr('x', x0).attr('y', 617).attr('width', x1 - x0 + 0.3).attr('height', 4.5).attr('fill', COLORS[c]);
  });
  safetyZones.forEach(([a, b, top]) => {
    const x0 = x(a - 0.5), x1 = b === n - 1 ? 817 : x(b + 0.5);
    sp.append('rect').attr('x', x0).attr('y', ys(top)).attr('width', x1 - x0).attr('height', ys(0) - ys(top)).attr('fill', '#ff00ff');
  });
  sp.append('line').attr('x1', 817).attr('x2', 892).attr('y1', 652.5).attr('y2', 652.5).attr('stroke', '#a0a0a0').attr('stroke-dasharray', '1,2');
  sp.append('line').attr('x1', x(0)).attr('x2', x(n - 1)).attr('y1', ys(safetyThreshold)).attr('y2', ys(safetyThreshold)).attr('stroke', '#000000').attr('stroke-width', 2);
  const sline = d3.line<number>().x((_, i) => x(i)).y((d) => ys(d)).curve(d3.curveStep);
  sp.append('path').attr('d', sline(safety)).attr('fill', 'none').attr('stroke', '#0000ff').attr('stroke-width', 2.2);
  safetyBlueDots.forEach(([i, v]) => sp.append('circle').attr('cx', x(i)).attr('cy', ys(v)).attr('r', 6).attr('fill', '#0000ff'));
  safetyGreenDots.forEach(([i, v]) => sp.append('circle').attr('cx', x(i)).attr('cy', ys(v)).attr('r', 6).attr('fill', '#33c033'));
  safetyEights.forEach(([i, v]) => numCircle(sp, x(i), ys(v), 6.5, 'none', '#ffff00', 1.8, '8', '#ffff00'));
  const st = svg.append('text').attr('x', 9).attr('y', 629).attr('font-family', FONT).attr('font-size', 12);
  st.append('tspan').attr('fill', '#000000').text('VIC - ');
  st.append('tspan').attr('fill', '#0000ff').text('Muc do an toan');
  st.append('tspan').attr('fill', '#000000').text(' = 8.00');
  sp.append('circle').attr('cx', 855).attr('cy', 622.5).attr('r', 5.5).attr('fill', '#7020a0');
  sp.append('circle').attr('cx', 855).attr('cy', 635.5).attr('r', 5.5).attr('fill', '#008000');
  sp.append('circle').attr('cx', 855).attr('cy', 650).attr('r', 5.5).attr('fill', '#33c033');
  ax.append('line').attr('x1', 892).attr('x2', 898).attr('y1', 652.5).attr('y2', 652.5).attr('stroke', '#000000');
  txt(ax, '0', 933, 656, 12.5, '#000000');
  const e8 = ys(8);
  ax.append('path').attr('d', `M898,${e8} L905,${e8 - 7.5} L905,${e8 + 7.5} Z`).attr('fill', '#0000ff');
  ax.append('rect').attr('x', 905).attr('y', e8 - 7.5).attr('width', 15).attr('height', 15).attr('fill', '#0000ff');
  txt(ax, '8', 909, e8 + 4.5, 12.5, '#ffffff');
}

export default function App() {
  const ref = useRef<SVGSVGElement>(null);
  useEffect(() => {
    if (ref.current) draw(ref.current);
  }, []);
  return (
    <svg ref={ref} width={961} height={665} style={{ position: 'absolute', left: 0, top: 0, display: 'block' }} />
  );
}
